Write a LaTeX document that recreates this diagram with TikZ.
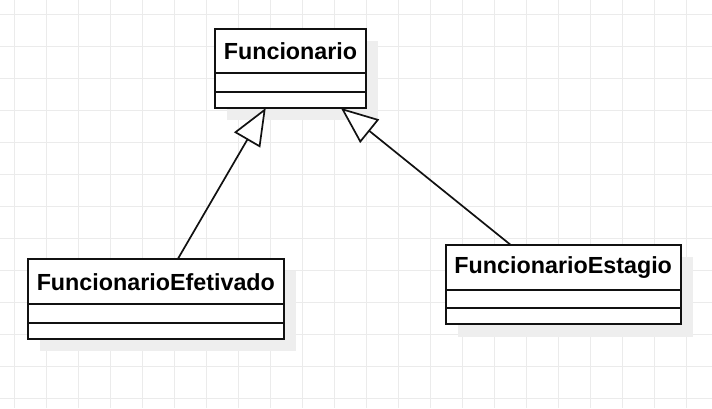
\documentclass[tikz,border=0pt]{standalone}
\usepackage{fontspec}
\setmainfont{Liberation Sans}
\usetikzlibrary{arrows.meta,calc}
\definecolor{gridc}{HTML}{EBEBEB}
\definecolor{shadowc}{HTML}{EEEEEE}
\definecolor{ink}{HTML}{111111}
\tikzset{
  hdr/.style={draw=ink, line width=1.9pt, fill=white, anchor=north west, inner sep=0pt, outer sep=0pt,
    font=\fontsize{23.3}{27}\selectfont\bfseries},
  comp/.style={draw=ink, line width=1.9pt, fill=white, anchor=north west, inner sep=0pt, outer sep=0pt},
  shad/.style={fill=shadowc, draw=none},
  inherit/.style={draw=ink, line width=1.7pt,
    -{Triangle[open, length=37pt, width=30pt, fill=white]}},
}
\begin{document}
\begin{tikzpicture}[x=1pt,y=-1pt]
\useasboundingbox (0,0) rectangle (712,408);
\fill[white] (0,0) rectangle (712,408);
% grid
\foreach \i in {0,...,21} {
  \draw[gridc, line width=1pt] (14.3+32*\i,0) -- (14.3+32*\i,408);
}
\foreach \j in {0,...,12} {
  \draw[gridc, line width=1pt] (0,14.3+32*\j) -- (712,14.3+32*\j);
}
% shadows
\fill[shad] (227,41) rectangle (378,120);
\fill[shad] (40,271) rectangle (296,351);
\fill[shad] (458,257) rectangle (693,337);
% Funcionario
\node[hdr, minimum width=151pt, minimum height=44.3pt] (fh) at (215,29) {Funcionario};
\node[comp, minimum width=151pt, minimum height=18.4pt] (f1) at (fh.south west) {};
\node[comp, minimum width=151pt, minimum height=16.3pt] (f2) at (f1.south west) {};
% FuncionarioEfetivado
\node[hdr, minimum width=256.3pt, minimum height=45pt] (eh) at (27.7,259.3) {FuncionarioEfetivado};
\node[comp, minimum width=256.3pt, minimum height=18.4pt] (e1) at (eh.south west) {};
\node[comp, minimum width=256.3pt, minimum height=16.3pt] (e2) at (e1.south west) {};
% FuncionarioEstagio
\node[hdr, minimum width=235pt, minimum height=45.3pt] (sh) at (445.7,245) {FuncionarioEstagio};
\node[comp, minimum width=235pt, minimum height=18pt] (s1) at (sh.south west) {};
\node[comp, minimum width=235pt, minimum height=16pt] (s2) at (s1.south west) {};
% connectors
\coordinate (t1) at ($(f2.south west)!0.336!(f2.south east)$);
\coordinate (t2) at ($(f2.south west)!0.834!(f2.south east)$);
\coordinate (a1) at ($(eh.north west)!0.585!(eh.north east)$);
\coordinate (a2) at ($(sh.north west)!0.277!(sh.north east)$);
\draw[inherit] (a1) -- (t1);
\draw[inherit] (a2) -- (t2);
\end{tikzpicture}
\end{document}
